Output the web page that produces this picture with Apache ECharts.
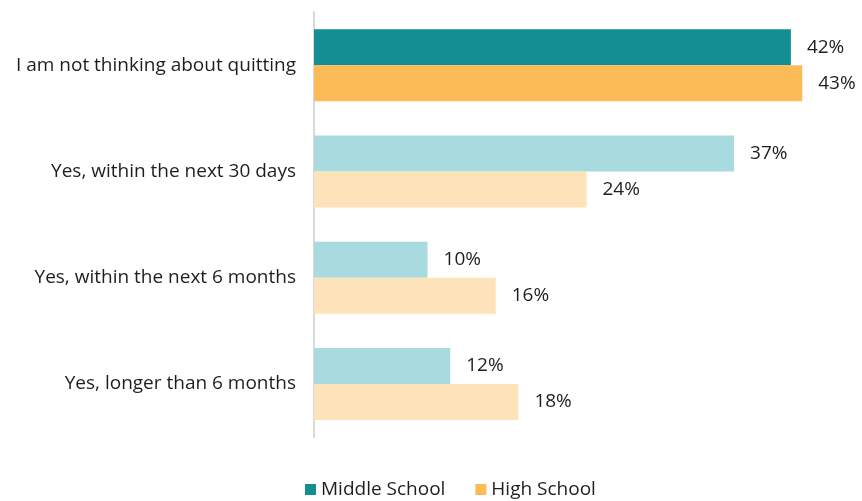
<!DOCTYPE html>
<html lang="en">
<head>
    <meta charset="UTF-8">
    <title></title>
    <style type="text/css">
        body{margin:0;background:#fff;}
        #main{width:862px;height:501px;}
    </style>
</head>
<body>
<div id="main"></div>
<script src="https://cdn.jsdelivr.net/npm/echarts@6/dist/echarts.min.js"></script>
<script>
    var categories = ['I am not thinking about quitting', 'Yes, within the next 30 days', 'Yes, within the next 6 months', 'Yes, longer than 6 months'];
    var middleSchool = [42, 37, 10, 12];
    var highSchool = [43, 24, 16, 18];

    // first row is highlighted, the rest get the pale shades
    var msColors = ['#138e93', '#a8dadf', '#a8dadf', '#a8dadf'];
    var hsColors = ['#fdbb58', '#fee3ba', '#fee3ba', '#fee3ba'];

    function colored(vals, cols) {
        return vals.map(function (v, i) {
            return {value: v, itemStyle: {color: cols[i]}};
        });
    }

    var font = 'Open Sans';
    var txt = '#1e1e1e';
    var myChart = echarts.init(document.getElementById('main'));
    var option = {
        animation: false,
        textStyle: {fontFamily: font},
        grid: {left: 314, right: 3, top: 12, bottom: 64, containLabel: false},
        legend: {
            bottom: -3,
            left: 300,
            itemWidth: 11,
            itemHeight: 11,
            itemGap: 30,
            icon: 'rect',
            textStyle: {fontSize: 19, color: txt, fontFamily: font},
            data: [
                {name: 'Middle School', itemStyle: {color: '#138e93'}},
                {name: 'High School', itemStyle: {color: '#fdbb58'}}
            ]
        },
        xAxis: {
            type: 'value',
            min: 0,
            max: 48,
            show: false
        },
        yAxis: {
            type: 'category',
            inverse: true,
            data: categories,
            axisLine: {show: true, lineStyle: {color: '#d9d9d9', width: 2}},
            axisTick: {show: false},
            axisLabel: {fontSize: 19, color: txt, margin: 18, fontFamily: font}
        },
        series: [
            {
                name: 'Middle School',
                type: 'bar',
                barWidth: 36,
                barGap: '0%',
                itemStyle: {color: '#138e93'},
                label: {show: true, position: 'right', distance: 16, formatter: '{c}%', fontSize: 19, color: txt, fontFamily: font},
                data: colored(middleSchool, msColors)
            },
            {
                name: 'High School',
                type: 'bar',
                barWidth: 36,
                barGap: '0%',
                itemStyle: {color: '#fdbb58'},
                label: {show: true, position: 'right', distance: 16, formatter: '{c}%', fontSize: 19, color: txt, fontFamily: font},
                data: colored(highSchool, hsColors)
            }
        ]
    };
    myChart.setOption(option);
</script>
</body>
</html>
